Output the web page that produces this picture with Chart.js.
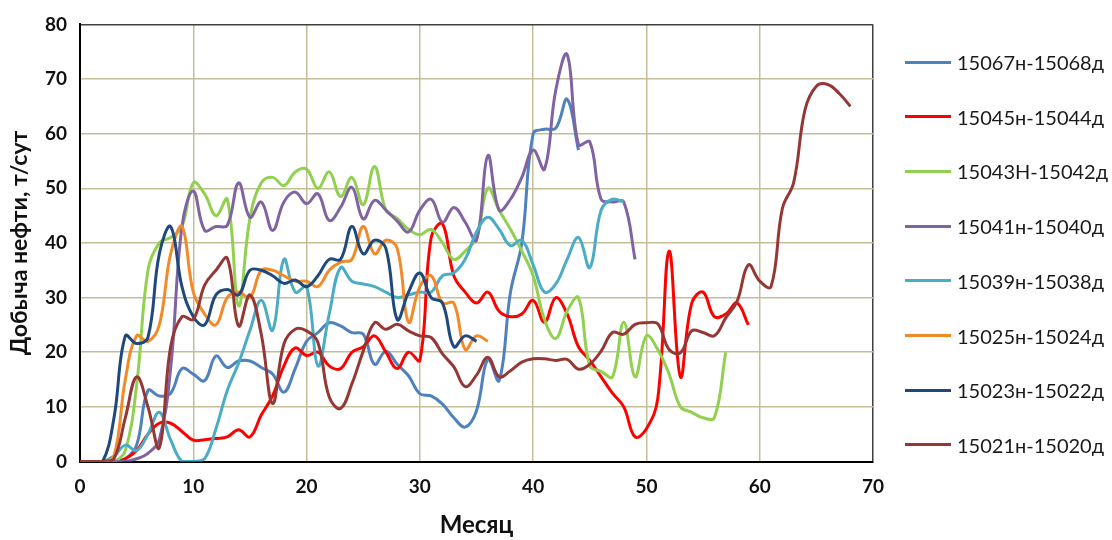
<!DOCTYPE html>
<html>
<head>
<meta charset="utf-8">
<script src="https://cdn.jsdelivr.net/npm/chart.js@4.4.1/dist/chart.umd.min.js"></script>
<style>
  body { margin: 0; background: #fff; }
  #wrap { position: relative; width: 1112px; height: 540px; }
  #legend { position: absolute; left: 905px; top: 0; font-family: Lato, sans-serif; }
  .item { position: absolute; left: 0; height: 26px; margin-top: -13px; display: flex; align-items: center; white-space: nowrap; font-size: 20px; color: #1a1a1a; }
  .item .line { display: inline-block; width: 46px; height: 3px; margin-right: 6px; }
</style>
</head>
<body>
<div id="wrap">
  <canvas id="myChart" width="1112" height="540"></canvas>
  <div id="legend"></div>
</div>
<script>
// месяцы 0..68
const months = [0,1,2,3,4,5,6,7,8,9,10,11,12,13,14,15,16,17,18,19,20,21,22,23,24,25,26,27,28,29,30,31,32,33,34,35,36,37,38,39,40,41,42,43,44,45,46,47,48,49,50,51,52,53,54,55,56,57,58,59,60,61,62,63,64,65,66,67,68];

const s15067 = [0,0,0,0,0.5,3,13,12,12.5,17,16,14.8,19.3,17.2,18.4,18.4,17.2,16,12.7,17,22,23.6,25.4,24.8,23.6,23.3,17.8,20.2,17.8,15.7,12.4,12,10.5,8,6.3,9.3,18.7,14.8,31,40,60,60.8,61,66.3,57];
const s15045 = [0,0,0,0,0.5,2,5,7,7,5.5,3.9,4,4.2,4.5,5.8,4.5,8.5,12,17.5,20.8,19.4,20,17.5,17,20,21,23,20,17,20,18.5,41,43.5,34,31,29,31,27.5,26.5,27,29.5,25.5,30,27,21,18.5,15.5,12.5,10,4.5,6,11.5,38.5,15.5,29,31,26.5,27,29,25];
const s15043 = [0,0,0,0,2,14,35,40,41,43,51,49,45,48,28.5,44.5,51,52,50.5,53,53.5,50,53,48.5,52,47,54,46,44.5,42.5,41.5,42.5,40,37,38.5,41,50,46,42.5,38.5,34,26,22.5,27.5,30,17.5,16.5,15.5,25.5,15.5,23,20.5,16,10,9,8,8,20];
const s15041 = [0,0,0,0,0,0.5,1.5,4,17,43,49.5,42.3,43,43.2,51,44.7,47.5,42.3,47.5,49.3,47.2,49,44.1,46.5,50.2,44.4,47.8,46,44,42,46,48,43.8,46.5,43.8,40.5,56,46,48,52,57,53.5,68,74.5,58,58.5,48,47.5,47.5,37];
const s15039 = [0,0,0,1,3,2,5,9,4,0,0,0.5,6,13,18,24,29.5,24,37,31,32,17.5,27,35.5,33,32.5,32,31,30,30.5,31,31,34,34.5,37,42,44.7,42.5,39.5,40.5,36,31,32.5,37,41,35.5,46,48,47.5];
const s15025 = [0,0,0,1,15,23,22,25,38,43,31,27,25,30,31,30,35,35,34,33,33,32,35,36.5,37,43,38,40.5,39,25.5,32,34,29,29,20.5,23,22];
const s15023 = [0,0,0,8,23,21.6,22.7,38,43,32,26.5,25,30.5,31.5,30.5,35,35,34,32.6,33.2,32,34,37,37,43,38,40.5,39,26,31,34.5,30,29,21,23,22];
const s15021 = [0,0,0,0.5,8,15.5,10,2.5,21,26.5,26,32.3,35,37.2,24.8,30.5,23.3,10.6,21.5,24.2,23.9,21.8,11.8,9.7,14.2,20.2,25.4,24.2,25.1,23.9,23,22.7,19.7,17.3,13.7,15.8,19.1,15.5,16.6,18.2,18.8,18.8,18.5,18.7,16.9,17.8,20.2,23.6,23.3,25.1,25.4,25.2,20.5,19.9,23.9,23.6,23,26.3,29.3,36,33,32,46.3,51.1,64.4,68.7,69,67.4,65];

const seriesNames = ["15067н-15068д","15045н-15044д","15043Н-15042д","15041н-15040д","15039н-15038д","15025н-15024д","15023н-15022д","15021н-15020д"];
const seriesValues = [s15067, s15045, s15043, s15041, s15039, s15025, s15023, s15021];
const seriesColors = ["#4F81BD","#FF0000","#92D050","#8064A2","#4BACC6","#F38A2A","#1F497D","#953735"];

const xTicks = [0,10,20,30,40,50,60,70];
const yTicks = [0,10,20,30,40,50,60,70,80];

const gridColor = "#C4BD97";
const font = "Lato";

const datasets = seriesValues.map((vals, i) => ({
  label: seriesNames[i],
  data: vals.map((v, k) => ({ x: months[k], y: v })),
  borderColor: seriesColors[i],
  backgroundColor: seriesColors[i],
  borderWidth: 3,
  pointRadius: 0,
  tension: 0.4,
  fill: false,
  order: seriesValues.length - i
}));

new Chart(document.getElementById("myChart"), {
  type: "line",
  data: { datasets },
  options: {
    responsive: false,
    animation: false,
    layout: { padding: { top: 20, right: 239, left: 0, bottom: 0 } },
    plugins: { legend: { display: false }, tooltip: { enabled: false } },
    scales: {
      x: {
        type: "linear",
        min: xTicks[0],
        max: xTicks[xTicks.length - 1],
        afterBuildTicks: (s) => { s.ticks = xTicks.map(v => ({ value: v })); },
        afterFit: (s) => { s.height = 78.5; },
        ticks: { padding: 14, color: "#111", font: { family: font, size: 19, weight: "bold" } },
        grid: {
          drawTicks: false,
          lineWidth: 1.5,
          color: (ctx) => (ctx.tick && ctx.tick.value === 70 ? "#404040" : gridColor)
        },
        border: { color: "#000", width: 2 },
        title: { display: true, text: "Месяц", color: "#111", padding: { top: 4, bottom: 0 },
                 font: { family: font, size: 24, weight: "bold" } }
      },
      y: {
        min: yTicks[0],
        max: yTicks[yTicks.length - 1],
        afterBuildTicks: (s) => { s.ticks = yTicks.map(v => ({ value: v })); },
        afterFit: (s) => { s.width = 80; },
        ticks: { padding: 13, color: "#111", font: { family: font, size: 19, weight: "bold" } },
        grid: {
          drawTicks: false,
          lineWidth: 1.5,
          color: (ctx) => (ctx.tick && ctx.tick.value === 80 ? "#404040" : gridColor)
        },
        border: { color: "#000", width: 2 },
        title: { display: true, text: "Добыча нефти, т/сут", color: "#111", padding: { top: 6, bottom: 4 },
                 font: { family: font, size: 23, weight: "bold" } }
      }
    }
  }
});

// легенда справа
const legend = document.getElementById("legend");
seriesNames.forEach((name, i) => {
  const row = document.createElement("div");
  row.className = "item";
  row.style.top = (62 + 54.7 * i) + "px";
  row.innerHTML = '<span class="line" style="background:' + seriesColors[i] + '"></span>' + name;
  legend.appendChild(row);
});
</script>
</body>
</html>
